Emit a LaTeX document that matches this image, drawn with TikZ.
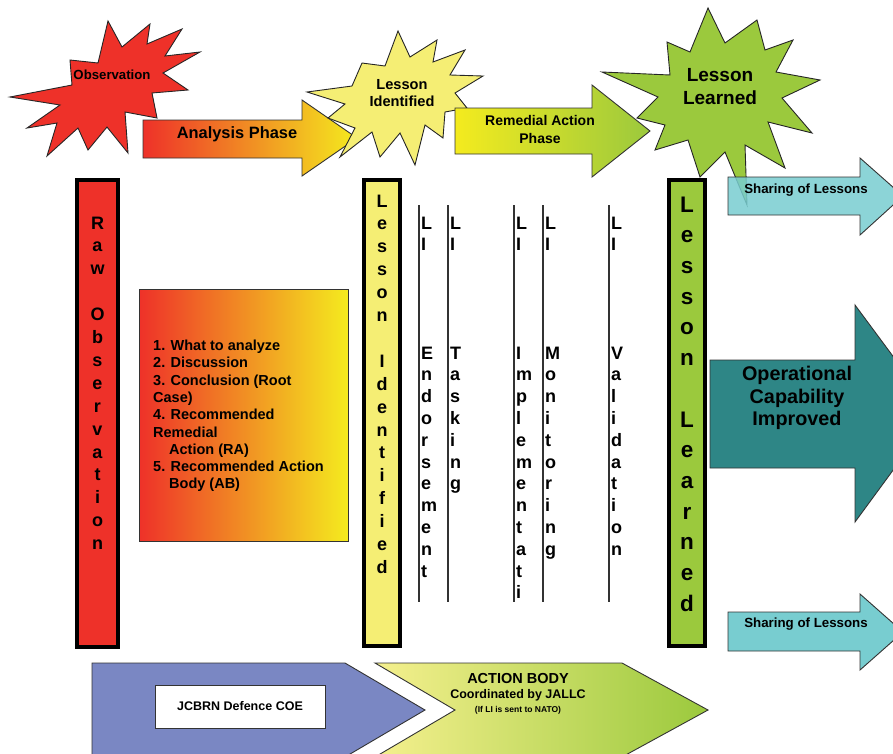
\documentclass[tikz,border=0pt]{standalone}
\usepackage{fontspec}
\setmainfont{Liberation Sans}
\definecolor{obsred}{HTML}{EE3129}
\definecolor{phorange}{HTML}{F7A11C}
\definecolor{phyellow}{HTML}{F4EB1E}
\definecolor{liyellow}{HTML}{F5EE74}
\definecolor{llgreen}{HTML}{9BC93D}
\definecolor{sharecyan}{HTML}{78CDD0}
\definecolor{opteal}{HTML}{2E8686}
\definecolor{coeblue}{HTML}{7A87C3}
\definecolor{abpale}{HTML}{F5F08E}
\definecolor{abyellow}{HTML}{E5E25A}

\begin{document}
\begin{tikzpicture}[x=1pt,y=-1pt,
    starburst/.style={draw=black!85,line width=0.9pt},
    phase/.style={draw=black!80,line width=0.9pt},
    stagebar/.style={draw=black,line width=4pt},
    barletters/.style={font=\fontsize{18}{22.9}\selectfont\bfseries,align=center,inner sep=0pt,anchor=north},
    liletters/.style={font=\fontsize{18}{21.8}\selectfont\bfseries,align=left,inner sep=0pt,anchor=north west},
    liline/.style={draw=black!80,line width=1.2pt},
    lbl/.style={align=center,inner sep=0pt}]
    \clip (0,0) rectangle (893,753);

    % stars and phases along the top
    \draw[starburst,fill=obsred] (108,21) -- (122,47) -- (150,24) -- (147,44) -- (182,29) -- (165,56) -- (200,52) -- (163,73) -- (188,90) -- (152,93) -- (157,118) -- (125,112) -- (128,153) -- (107,127) -- (88,150) -- (78,128) -- (47,156) -- (57,123) -- (27,128) -- (60,105) -- (10,97) -- (72,85) -- (70,60) -- (98,63) -- cycle;
    \node[lbl,font=\fontsize{13.2}{15}\selectfont\bfseries] (obsstar) at (112,75) {Observation};

    \draw[phase,left color=obsred,middle color=phorange,right color=phyellow] (143,120) -- (302,120) -- (302,100) -- (357,138) -- (302,176) -- (302,158) -- (143,158) -- cycle;
    \node[lbl,font=\fontsize{16.4}{18}\selectfont\bfseries] (analysis) at (237,134) {Analysis Phase};

    \draw[starburst,fill=liyellow] (398,31) -- (410,57) -- (437,40) -- (433,62) -- (465,50) -- (450,75) -- (483,76) -- (455,93) -- (467,108) -- (445,112) -- (443,138) -- (425,125) -- (415,165) -- (400,133) -- (380,157) -- (372,132) -- (340,157) -- (355,128) -- (328,118) -- (345,104) -- (307,92) -- (352,86) -- (362,63) -- (385,66) -- cycle;
    \node[lbl,font=\fontsize{14.6}{17}\selectfont\bfseries] (listar) at (402,93) {Lesson\\Identified};

    \draw[phase,left color=phyellow,middle color=phyellow!60!llgreen,right color=llgreen] (455,108) -- (592,108) -- (592,85) -- (650,131) -- (592,177) -- (592,154) -- (455,154) -- cycle;
    \node[lbl,font=\fontsize{14}{18}\selectfont\bfseries] (remedial) at (540,129) {Remedial Action\\Phase};

    \draw[starburst,fill=llgreen] (708,8) -- (725,43) -- (757,20) -- (765,50) -- (793,40) -- (776,72) -- (820,80) -- (782,98) -- (812,133) -- (768,122) -- (785,168) -- (745,145) -- (747,205) -- (725,152) -- (700,177) -- (688,140) -- (655,150) -- (665,125) -- (637,118) -- (658,97) -- (602,72) -- (670,75) -- (667,42) -- (690,52) -- cycle;
    \node[lbl,font=\fontsize{19}{23}\selectfont\bfseries] (llstar) at (720,87) {Lesson\\Learned};

    % outputs on the right
    \draw[phase,fill=sharecyan,fill opacity=0.85] (728,177) -- (860,177) -- (860,158) -- (903,196) -- (860,235) -- (860,215) -- (728,215) -- cycle;
    \node[lbl,font=\fontsize{13.3}{15}\selectfont\bfseries] (sharetop) at (806,190) {Sharing of Lessons};

    \draw[phase,fill=opteal] (710,360) -- (855,360) -- (855,305) -- (935,413) -- (855,522) -- (855,468) -- (710,468) -- cycle;
    \node[lbl,font=\fontsize{19.8}{22.5}\selectfont\bfseries] (opcap) at (797,398) {Operational\\Capability\\Improved};

    \draw[phase,fill=sharecyan] (728,612) -- (860,612) -- (860,594) -- (903,632) -- (860,670) -- (860,651) -- (728,651) -- cycle;
    \node[lbl,font=\fontsize{13.3}{15}\selectfont\bfseries] (sharebottom) at (806,624) {Sharing of Lessons};

    % stage bars
    \draw[stagebar,fill=obsred] (77,180) rectangle (118,647);
    \node[barletters] (rawobs) at (97.5,216.5) {R\\a\\w\\[22.9pt]O\\b\\s\\e\\r\\v\\a\\t\\i\\o\\n};

    \draw[stagebar,fill=liyellow] (364,180) rectangle (400,646);
    \node[barletters] (lessonid) at (382,194.5) {L\\e\\s\\s\\o\\n\\[22.9pt]I\\d\\e\\n\\t\\i\\f\\i\\e\\d};

    \draw[stagebar,fill=llgreen] (669,180) rectangle (705,646);
    \node[barletters,font=\fontsize{22.5}{30.7}\selectfont\bfseries] (lessonlearned) at (687,196.5) {L\\e\\s\\s\\o\\n\\[30.7pt]L\\e\\a\\r\\n\\e\\d};

    % analysis steps
    \draw[draw=black!80,line width=0.9pt,left color=obsred,middle color=phorange!70!phyellow,right color=phyellow] (139,289) rectangle (348,541);
    \node[anchor=west,align=left,inner sep=0pt,font=\fontsize{14.5}{17.3}\selectfont\bfseries] (steplist) at (153,416) {1. What to analyze\\2. Discussion\\3. Conclusion (Root\\Case)\\4. Recommended\\Remedial\\\hspace*{16pt}Action (RA)\\5. Recommended Action\\\hspace*{16pt}Body (AB)};

    % LI steps
    \draw[liline] (419,205) -- (419,602);
    \draw[liline] (448,205) -- (448,602);
    \draw[liline] (514,205) -- (514,602);
    \draw[liline] (543,205) -- (543,602);
    \draw[liline] (609,205) -- (609,602);
    \node[liletters] (endorsetop) at (421,216.5) {L\\I};
    \node[liletters] (endorse) at (421,346.5) {E\\n\\d\\o\\r\\s\\e\\m\\e\\n\\t};
    \node[liletters] (taskingtop) at (450,216.5) {L\\I};
    \node[liletters] (tasking) at (450,346.5) {T\\a\\s\\k\\i\\n\\g};
    \node[liletters] (impltop) at (516,216.5) {L\\I};
    \node[liletters] (impl) at (516,346.5) {I\\m\\p\\l\\e\\m\\e\\n\\t\\a\\t\\i};
    \node[liletters] (monitortop) at (545,216.5) {L\\I};
    \node[liletters] (monitor) at (545,346.5) {M\\o\\n\\i\\t\\o\\r\\i\\n\\g};
    \node[liletters] (validtop) at (611,216.5) {L\\I};
    \node[liletters] (valid) at (611,346.5) {V\\a\\l\\i\\d\\a\\t\\i\\o\\n};

    % bodies along the bottom
    \draw[phase,fill=coeblue] (92,663) -- (345,663) -- (425,710) -- (345,757) -- (92,757) -- cycle;
    \draw[draw=black!80,line width=0.9pt,fill=white] (155,685) rectangle (325,728);
    \node[lbl,font=\fontsize{12.5}{14}\selectfont\bfseries] (jcbrn) at (240,706) {JCBRN Defence COE};

    \draw[phase,left color=abpale,middle color=abyellow,right color=llgreen] (375,663) -- (622,663) -- (708,710) -- (622,757) -- (375,757) -- (455,710) -- cycle;
    \node[lbl,font=\fontsize{14.5}{16}\selectfont\bfseries] (actionbody) at (518,678) {ACTION BODY};
    \node[lbl,font=\fontsize{12.5}{14}\selectfont\bfseries] (jallc) at (518,695) {Coordinated by JALLC};
    \node[lbl,font=\fontsize{8.5}{10}\selectfont\bfseries] (tonato) at (518,710) {(If LI is sent to NATO)};
\end{tikzpicture}
\end{document}
